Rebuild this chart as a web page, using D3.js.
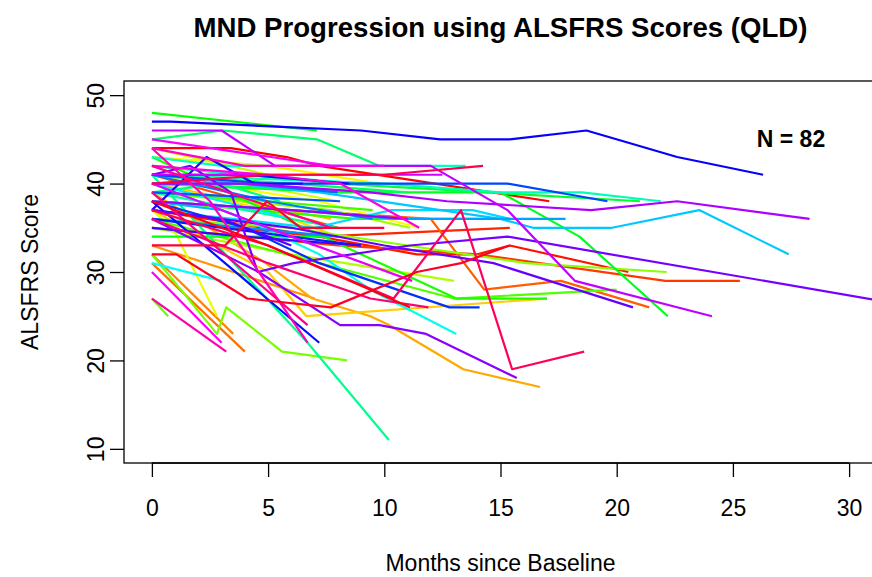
<!DOCTYPE html>
<html>
<head>
<meta charset="utf-8">
<script src="https://cdn.jsdelivr.net/npm/d3@7"></script>
<style>
  html, body { margin: 0; padding: 0; background: #fff; }
  svg { display: block; }
  text { font-family: "Liberation Sans", Arial, Helvetica, sans-serif; fill: #000; }
</style>
</head>
<body>
<svg id="chart" width="872" height="577"></svg>
<script>
// ---- Data (months since baseline, ALSFRS score) per patient, in plotting order ----
const months = [
  [0,3.4,5.8,7.2,17.1],
  [0,7.2,11.4,14,15.4,20.5],
  [0,7.2,15.4],
  [0,8,14,22.1,25.3],
  [0,4,8],
  [0,6,12,14.3,17.6,21.4],
  [0,4],
  [0,3.5],
  [0,3.5,7],
  [0,4.9,6.9,9.4,10.2,13.4,16.7],
  [0,7.7],
  [0,5,6.65,17],
  [0,5,8],
  [0,5,9.8],
  [0,7.2,11.5],
  [0,0.9,2.8],
  [0,4,8],
  [0,5],
  [0,6,13],
  [0,7.7,11.1],
  [0,6,11,16.1,22.15],
  [0,2.8,3.2,5.6,8.4],
  [0,0.7],
  [0,13,20],
  [0,5,9.5],
  [0,8.8,15.4],
  [0,13.1,17],
  [0,7.1],
  [0,7.7],
  [0,8,15,18.4,22.2],
  [0,8,21],
  [0,10.4],
  [0,6,11],
  [0,3.05,7.1,9.8],
  [0,3,5.5],
  [0,6.7,10.2],
  [0,4,8],
  [0,10,15,18.5,21.9],
  [0,3,13.5],
  [0,4,9],
  [0,4,7.2,9.4,13.1],
  [0,3],
  [0,3,6],
  [0,7,10.3,13.8,15.4],
  [0,7.2,15,16.4,19.8,23.55,27.4],
  [0,3,7],
  [0,6,10.5,17.8],
  [0,4,8],
  [0,5,9.5],
  [0,4,8],
  [0,8.1],
  [0,5,15.3,19.6],
  [0,4,7.2,12.8,14.1],
  [0,6,9],
  [0,7.2],
  [0,0.8,9,12.4,15.4,18.7,22.6,26.3],
  [0,4,8.5],
  [0,2.35,4.4,6.5],
  [0,4,9],
  [0,3,6],
  [0,6,10,14.7,20.7],
  [0,1.65,3.4,4.55,6.1,11.1,15.3,33],
  [0,4.6,8.1,9.8,11.8,15.7],
  [0,6,11],
  [0,4,9.4,12.7,18.9,22.6,28.3],
  [0,3,5.3,12,15.3,18.2,24.1],
  [0,7.5,12.5],
  [0,6,11.2],
  [0,7.7,10],
  [0,3],
  [0,5,8.1,11.5],
  [0,4,7.7],
  [0,2.5,6.7],
  [0,3.2],
  [0,7.7],
  [0,6.7],
  [0,5,9.4,11.9],
  [0,5,10.4,13.3,15.5,18.6],
  [0,5,10,14.25],
  [0,3.15,4.95,6.4,10],
  [0,1.05,4.1,7.7,11.4,13.3,15.4],
  [0,5,9.4,11.1]
];
const scores = [
  [44,44,43,42,38],
  [37,34,32,32,33,30],
  [36,34,35],
  [35,33,32,29,29],
  [41,38,35],
  [38,37,36,28,29,26],
  [31,21],
  [32,23],
  [33,30,27],
  [39,31,27,25,24,19,17],
  [40,36],
  [37,30,25,27],
  [40,37,34],
  [43,42,40],
  [41,38,35],
  [37,35,25],
  [41,40,38],
  [44,41],
  [35,32,29],
  [39,37,35],
  [36,35,33,31,30],
  [32,23,26,21,20],
  [27,25],
  [36,27,28],
  [39,38,37],
  [38,36,36],
  [43,27,27],
  [48,46],
  [34,34],
  [40,39,39,34,25],
  [42,40,38],
  [40,39],
  [41,40,39],
  [45,46,45,42],
  [39,40,38],
  [41,22,11],
  [39,37,35],
  [41,40,39,39,38],
  [43,42,42],
  [42,41,40],
  [40,36,32,28,23],
  [31,29],
  [40,38,36],
  [37,35,37,37,36],
  [41,39,36,35,35,37,32],
  [38,37,33],
  [38,37,36,36],
  [36,35,34],
  [41,38,36],
  [40,40,39],
  [39,38],
  [41,40,40,38],
  [38,35,31,26,26],
  [36,34,33],
  [38,22],
  [47,47,46,45,45,46,43,41],
  [41,41,40],
  [37,43,40,40],
  [35,34,33],
  [37,36,33],
  [37,35,33,31,26],
  [41,42,39,30,31,33,34,26],
  [36,30,24,24,23,18],
  [38,37,36],
  [40,40,39,38,37,38,36],
  [46,46,42,42,37,29,25],
  [41,41,41],
  [40,34,29],
  [45,42,42],
  [30,22],
  [42,41,40,35],
  [44,42,42],
  [44,38,22],
  [27,21],
  [42,35],
  [39,24],
  [36,31,27,26],
  [37,33,27,37,19,21],
  [40,41,41,42],
  [33,33,38,35,35],
  [32,32,27,26,30,31,33],
  [38,33,28,26]
];
const xTicks = [0, 5, 10, 15, 20, 25, 30];
const yTicks = [10, 20, 30, 40, 50];
const titleText = "MND Progression using ALSFRS Scores (QLD)";
const xLabel = "Months since Baseline";
const yLabel = "ALSFRS Score";
const nLabel = "N = " + months.length;
const nPos = [27.5, 45];

// ---- Layout ----
const svg = d3.select("#chart");
const plot = { left: 124, right: 877, top: 81, bottom: 463 };
const x = d3.scaleLinear().domain([-1.2, 31.2]).range([plot.left, plot.right]);
const y = d3.scaleLinear().domain([8.4, 51.6]).range([plot.bottom, plot.top]);
const n = months.length;
const color = i => d3.hsl(360 * i / n, 1, 0.5).formatHex();

svg.append("defs").append("clipPath").attr("id", "clip")
  .append("rect")
  .attr("x", plot.left).attr("y", plot.top)
  .attr("width", plot.right - plot.left).attr("height", plot.bottom - plot.top);

const line = d3.line().x(d => x(d[0])).y(d => y(d[1]));
const g = svg.append("g").attr("clip-path", "url(#clip)");
months.forEach((m, i) => {
  const pts = m.map((v, j) => [v, scores[i][j]]);
  g.append("path")
    .attr("d", line(pts))
    .attr("fill", "none")
    .attr("stroke", color(i))
    .attr("stroke-width", 2.2)
    .attr("stroke-linejoin", "round");
});

// box
svg.append("rect")
  .attr("x", plot.left).attr("y", plot.top)
  .attr("width", plot.right - plot.left).attr("height", plot.bottom - plot.top)
  .attr("fill", "none").attr("stroke", "#000").attr("stroke-width", 1.3);

// x axis
const xAxis = d3.axisBottom(x).tickValues(xTicks).tickSize(14).tickPadding(23).tickFormat(d3.format("d"));
const gx = svg.append("g").attr("transform", `translate(0,${plot.bottom})`).call(xAxis);
gx.select(".domain").remove();
gx.selectAll(".tick line").attr("stroke", "#000").attr("stroke-width", 1.3);
gx.selectAll(".tick text").attr("font-size", 23).attr("font-family", "Liberation Sans, Arial, sans-serif");
svg.append("line")
  .attr("x1", x(xTicks[0])).attr("x2", x(xTicks[xTicks.length - 1]))
  .attr("y1", plot.bottom).attr("y2", plot.bottom)
  .attr("stroke", "#000").attr("stroke-width", 1.3);

// y axis
const yAxis = d3.axisLeft(y).tickValues(yTicks).tickSize(14).tickFormat(d3.format("d"));
const gy = svg.append("g").attr("transform", `translate(${plot.left},0)`).call(yAxis);
gy.select(".domain").remove();
gy.selectAll(".tick line").attr("stroke", "#000").attr("stroke-width", 1.3);
gy.selectAll(".tick text")
  .attr("font-size", 23)
  .attr("font-family", "Liberation Sans, Arial, sans-serif")
  .attr("x", null).attr("dy", null)
  .attr("text-anchor", "middle")
  .attr("transform", "translate(-20,0) rotate(-90)");

// titles
svg.append("text")
  .attr("x", (plot.left + plot.right) / 2).attr("y", 37)
  .attr("text-anchor", "middle").attr("font-size", 27.6).attr("font-weight", "bold")
  .text(titleText);
svg.append("text")
  .attr("x", (plot.left + plot.right) / 2).attr("y", 571)
  .attr("text-anchor", "middle").attr("font-size", 23)
  .text(xLabel);
svg.append("text")
  .attr("transform", `translate(38,${(plot.top + plot.bottom) / 2}) rotate(-90)`)
  .attr("text-anchor", "middle").attr("font-size", 23)
  .text(yLabel);
svg.append("text")
  .attr("x", x(nPos[0])).attr("y", y(nPos[1]))
  .attr("text-anchor", "middle").attr("dy", "0.35em")
  .attr("font-size", 23).attr("font-weight", "bold")
  .text(nLabel);
</script>
</body>
</html>
